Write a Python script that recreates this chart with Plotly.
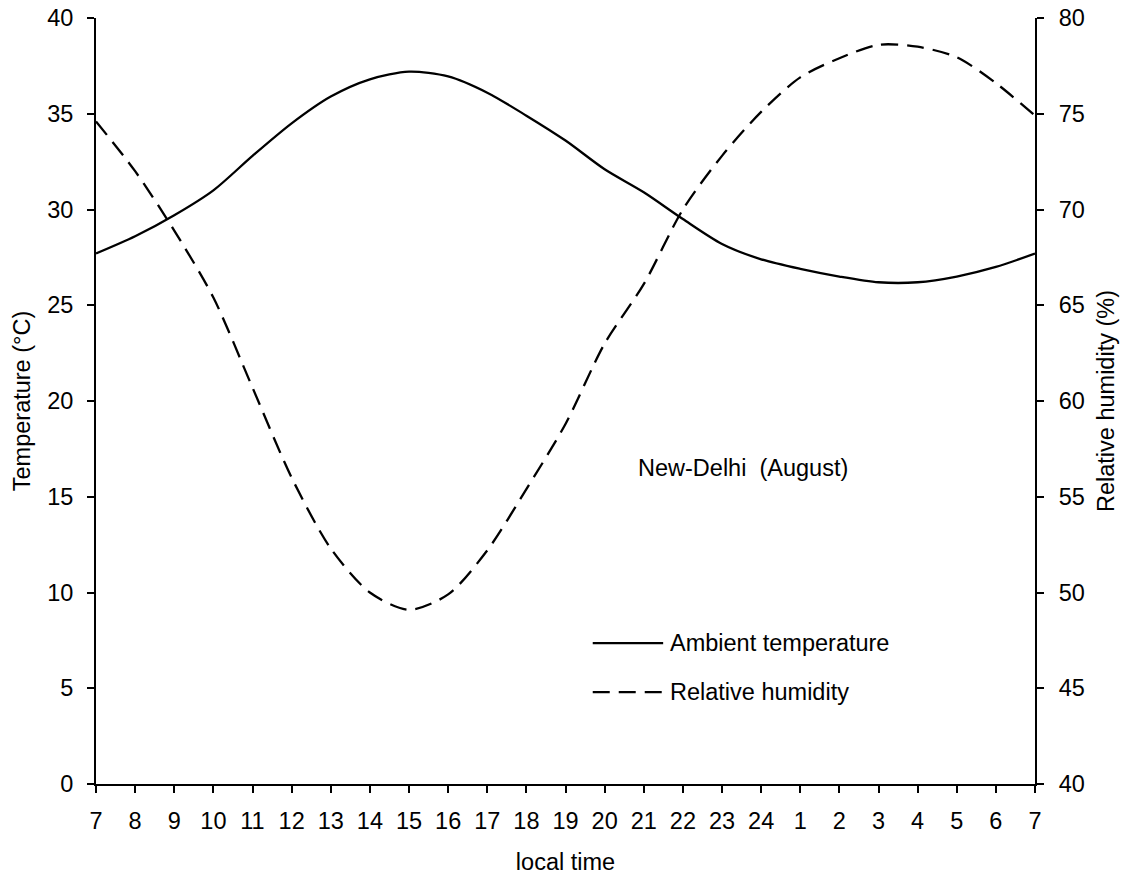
import plotly.graph_objects as go

hour_labels = ["7", "8", "9", "10", "11", "12", "13", "14", "15", "16", "17", "18", "19",
               "20", "21", "22", "23", "24", "1", "2", "3", "4", "5", "6", "7"]
hour_index = list(range(len(hour_labels)))

ambient_temperature = [27.7, 28.6, 29.7, 31.0, 32.8, 34.5, 35.9, 36.8, 37.2, 36.95, 36.1, 34.9,
                       33.6, 32.1, 30.9, 29.5, 28.2, 27.4, 26.9, 26.5, 26.2, 26.2, 26.5, 27.0, 27.7]
relative_humidity = [74.6, 72.0, 68.9, 65.4, 60.7, 56.0, 52.3, 50.0, 49.1, 49.9, 52.2, 55.4,
                     58.8, 63.0, 66.1, 70.0, 72.8, 75.1, 76.9, 77.9, 78.6, 78.5, 77.95, 76.6, 74.9]

FONT = "Liberation Sans, Arial, sans-serif"
FS = 23.5

fig = go.Figure()

fig.add_trace(go.Scatter(x=hour_index, y=ambient_temperature, mode="lines",
                         line=dict(color="black", width=2.3, shape="spline", smoothing=0.8),
                         name="Ambient temperature", showlegend=False))
fig.add_trace(go.Scatter(x=hour_index, y=relative_humidity, mode="lines", yaxis="y2",
                         line=dict(color="black", width=2.3, shape="spline", smoothing=0.8,
                                   dash="17px,9px"),
                         name="Relative humidity", showlegend=False))

axis_common = dict(showline=True, linecolor="black", linewidth=2, ticks="outside",
                   ticklen=7, tickwidth=2, tickcolor="black", showgrid=False, zeroline=False,
                   automargin=False)

fig.update_layout(
    width=1127, height=879,
    margin=dict(l=96, r=92, t=18, b=95),
    paper_bgcolor="white", plot_bgcolor="rgba(0,0,0,0)",
    font=dict(family=FONT, size=FS, color="black"),
    xaxis=dict(range=[0, 24], tickmode="array", tickvals=hour_index, ticktext=hour_labels,
               ticklabelstandoff=8,
               title=dict(text="local time", font=dict(size=FS), standoff=20), **axis_common),
    yaxis=dict(range=[0, 40], dtick=5, ticklabelstandoff=9,
               title=dict(text="Temperature (°C)", font=dict(size=FS), standoff=10),
               **axis_common),
    yaxis2=dict(range=[40, 80], dtick=5, overlaying="y", side="right", ticklabelstandoff=10,
                title=dict(text="Relative humidity (%)", font=dict(size=FS), standoff=14),
                **axis_common),
)

fig.add_annotation(text="New-Delhi  (August)", xref="paper", yref="paper", x=0.689, y=0.4125,
                   showarrow=False, xanchor="center", yanchor="middle", font=dict(size=FS))

# legend (manual)
legend_items = [("Ambient temperature", "solid", 0.184), ("Relative humidity", "17px,9px", 0.120)]
for label, dash, yy in legend_items:
    fig.add_shape(type="line", xref="paper", yref="paper", x0=0.529, x1=0.604, y0=yy, y1=yy,
                  line=dict(color="black", width=2.3, dash=dash))
    fig.add_annotation(text=label, xref="paper", yref="paper", x=0.609, y=yy, showarrow=False,
                       xanchor="left", yanchor="middle", font=dict(size=FS))

fig.write_html("out.html")
